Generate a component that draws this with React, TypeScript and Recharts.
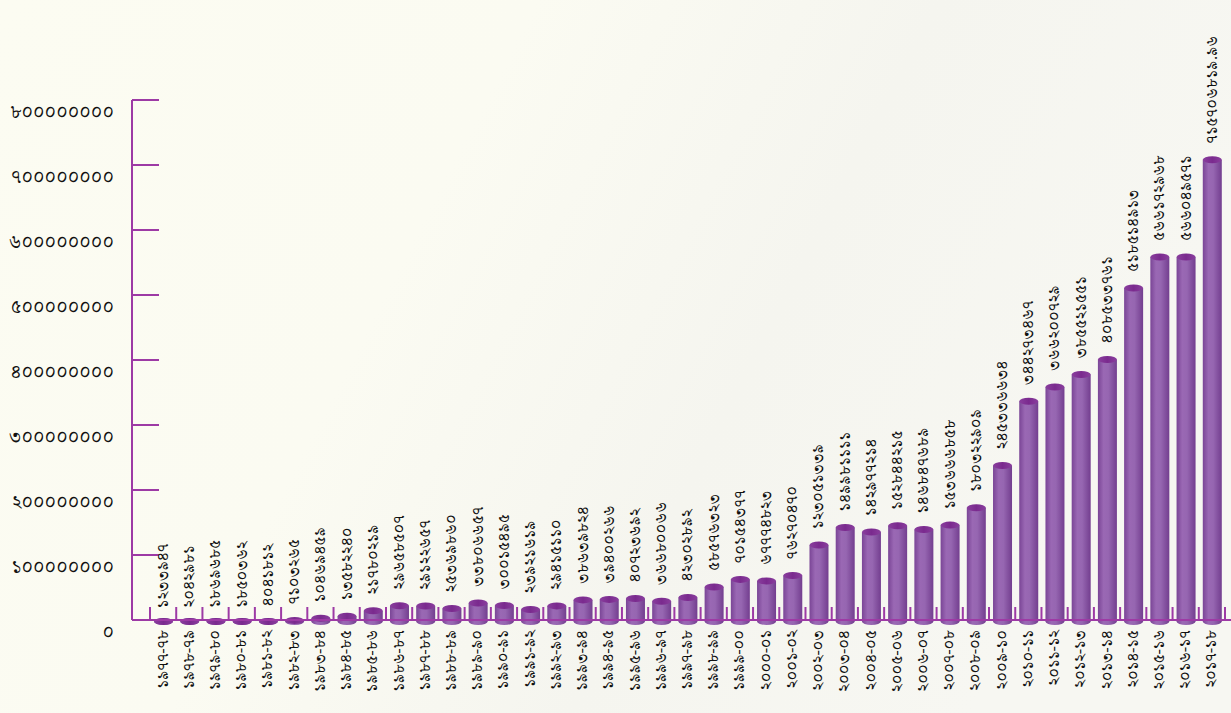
import React from 'react';
import { BarChart, Bar, XAxis, YAxis, LabelList } from 'recharts';

const years: string[] = [
  '১৯৭৭-৭৮', '১৯৭৮-৭৯', '১৯৭৯-৮০', '১৯৮০-৮১', '১৯৮১-৮২', '১৯৮২-৮৩', '১৯৮৩-৮৪', '১৯৮৪-৮৫',
  '১৯৮৫-৮৬', '১৯৮৬-৮৭', '১৯৮৭-৮৮', '১৯৮৮-৮৯', '১৯৮৯-৯০', '১৯৯০-৯১', '১৯৯১-৯২', '১৯৯২-৯৩',
  '১৯৯৩-৯৪', '১৯৯৪-৯৫', '১৯৯৫-৯৬', '১৯৯৬-৯৭', '১৯৯৭-৯৮', '১৯৯৮-৯৯', '১৯৯৯-০০', '২০০০-০১',
  '২০০১-০২', '২০০২-০৩', '২০০৩-০৪', '২০০৪-০৫', '২০০৫-০৬', '২০০৬-০৭', '২০০৭-০৮', '২০০৮-০৯',
  '২০০৯-১০', '২০১০-১১', '২০১১-১২', '২০১২-১৩', '২০১৩-১৪', '২০১৪-১৫', '২০১৫-১৬', '২০১৬-১৭',
  '২০১৭-১৮',
];

const values: number[] = [
  1233947, 2042981, 1869685, 1850362, 4041812, 7103265, 10469459, 13582240,
  21780219, 29658507, 29122657, 25369860, 33806657, 30015495, 23921619, 29415110,
  38639824, 39400266, 40723692, 36680066, 42302892, 58576323, 70154377, 67774823,
  76270470, 123051339, 149981111, 142977214, 152844215, 146847689, 153666858, 180322909,
  245336634, 344273467, 366200729, 385521551, 408533761, 518514913, 566172968, 566049571,
  715706819.96,
];

const yTicks: number[] = [0, 100000000, 200000000, 300000000, 400000000, 500000000, 600000000, 700000000, 800000000];

const BN = ['০', '১', '২', '৩', '৪', '৫', '৬', '৭', '৮', '৯'];
const toBn = (s: string) => s.replace(/[0-9]/g, (d) => BN[Number(d)]);

const rows = years.map((year, i) => ({ year, value: values[i] }));

const PURPLE = '#9d3aa5';
const FONT = "'Noto Serif Bengali', 'Lohit Bengali', 'FreeSerif', 'Mukti', 'Noto Sans Bengali', serif";
const BAND = (1231 - 132 - 18 - 6) / years.length;

const YTick = (props: any) => {
  const { x, y, payload } = props;
  return (
    <g>
      <line x1={x} y1={y} x2={x + 27} y2={y} stroke={PURPLE} strokeWidth={2} />
      <text x={x - 18} y={y + 12} textAnchor="end" dominantBaseline="central" fontSize={19} fontFamily={FONT} fill="#111">
        {toBn(String(payload.value))}
      </text>
    </g>
  );
};

const XTick = (props: any) => {
  const { x, y, payload, index } = props;
  const left = x - BAND / 2;
  const right = x + BAND / 2;
  const ty = y + 10;
  return (
    <g>
      <line x1={left} y1={y} x2={left} y2={y - 13} stroke={PURPLE} strokeWidth={2} />
      {index === years.length - 1 && <line x1={right} y1={y} x2={right} y2={y - 13} stroke={PURPLE} strokeWidth={2} />}
      <text x={x} y={ty} transform={`rotate(-90 ${x} ${ty})`} textAnchor="end" dominantBaseline="central" fontSize={16} fontFamily={FONT} fill="#111">
        {payload.value}
      </text>
    </g>
  );
};

const Cylinder = (props: any) => {
  const { x, y, width, height } = props;
  const cx = x + width / 2;
  const rx = width / 2;
  const ry = 3.5;
  const base = y + height;
  const botCy = base + 1.5;
  const topCy = Math.min(y + 5, botCy);
  return (
    <g>
      <ellipse cx={cx} cy={botCy} rx={rx} ry={ry} fill="url(#cylBody)" />
      <rect x={x} y={topCy} width={width} height={Math.max(0, botCy - topCy)} fill="url(#cylBody)" />
      <ellipse cx={cx} cy={topCy} rx={rx} ry={ry} fill="url(#cylTop)" />
    </g>
  );
};

const ValueLabel = (props: any) => {
  const { x, y, width, value } = props;
  const cx = x + width / 2;
  const ly = y - 11;
  return (
    <text x={cx} y={ly} transform={`rotate(-90 ${cx} ${ly})`} textAnchor="start" dominantBaseline="central" fontSize={16} fontFamily={FONT} fill="#111">
      {toBn(String(value))}
    </text>
  );
};

export default function App() {
  return (
    <div style={{ position: 'absolute', left: 0, top: 0, width: 1231, height: 713, overflow: 'hidden' }}>
      <svg width={1231} height={713} style={{ position: 'absolute', left: 0, top: 0 }}>
        <defs>
          <linearGradient id="cylBody" x1="0" y1="0" x2="1" y2="0">
            <stop offset="0%" stopColor="#7a4596" />
            <stop offset="30%" stopColor="#9a68b4" />
            <stop offset="55%" stopColor="#9666b1" />
            <stop offset="100%" stopColor="#733e8f" />
          </linearGradient>
          <linearGradient id="cylTop" x1="0" y1="0" x2="1" y2="0">
            <stop offset="0%" stopColor="#8a3f9e" />
            <stop offset="50%" stopColor="#7a2a8e" />
            <stop offset="100%" stopColor="#8a3f9e" />
          </linearGradient>
          <linearGradient id="bgSweep" x1="0" y1="0" x2="1" y2="0.3">
            <stop offset="0%" stopColor="#fcfcf2" />
            <stop offset="40%" stopColor="#fbfbf2" />
            <stop offset="70%" stopColor="#f5f5ef" />
            <stop offset="100%" stopColor="#f7f7f2" />
          </linearGradient>
        </defs>
        <rect x={0} y={0} width={1231} height={713} fill="url(#bgSweep)" />
      </svg>
      <div style={{ position: 'absolute', left: 0, top: 0 }}>
        <BarChart width={1231} height={713} data={rows} margin={{ top: 100, right: 0, bottom: 0, left: 0 }} barSize={19}>
          <XAxis
            dataKey="year"
            interval={0}
            height={93}
            padding={{ left: 18, right: 6 }}
            axisLine={{ stroke: PURPLE, strokeWidth: 2 }}
            tickLine={false}
            tickSize={0}
            tickMargin={0}
            tick={<XTick />}
          />
          <YAxis
            width={132}
            domain={[0, 800000000]}
            ticks={yTicks}
            interval={0}
            axisLine={{ stroke: PURPLE, strokeWidth: 2 }}
            tickLine={false}
            tickSize={0}
            tickMargin={0}
            tick={<YTick />}
          />
          <Bar dataKey="value" shape={<Cylinder />} isAnimationActive={false}>
            <LabelList dataKey="value" content={<ValueLabel />} />
          </Bar>
        </BarChart>
      </div>
    </div>
  );
}
